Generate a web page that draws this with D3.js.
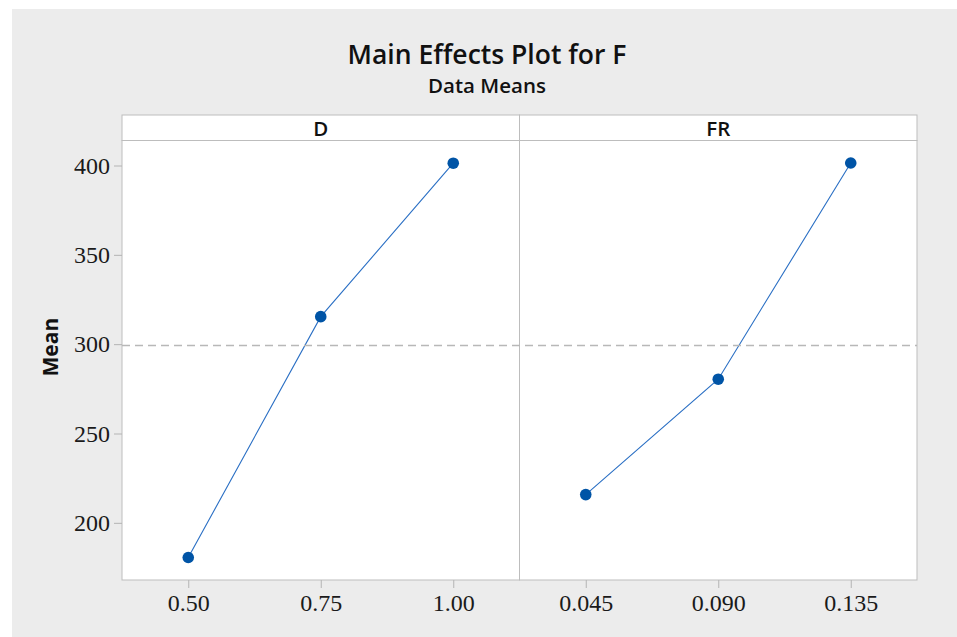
<!DOCTYPE html>
<html>
<head>
<meta charset="utf-8">
<script src="https://cdn.jsdelivr.net/npm/d3@7"></script>
<style>
  body { margin: 0; background: #fff; }
  .tick text { font-family: "Liberation Serif", serif; font-size: 24px; fill: #1a1a1a; }
  .tick line { stroke: #b4b4b4; }
  .domain { display: none; }
</style>
</head>
<body>
<svg id="chart" width="957" height="637"></svg>
<script>
// data
const factors = ["D", "FR"]
const dLevels = ["0.50", "0.75", "1.00"]
const dMeans = [180.6, 315.4, 401.3]
const frLevels = ["0.045", "0.090", "0.135"]
const frMeans = [215.8, 280.4, 401.4]
const yTicks = [200, 250, 300, 350, 400]
const grandMean = 299.2

const levels = [dLevels, frLevels]
const means = [dMeans, frMeans]

const svg = d3.select("#chart")
const border = "#bdbdbd"
const sans = "'Open Sans', 'Noto Sans', sans-serif"

// background
svg.append("rect")
  .attr("x", 12).attr("y", 9).attr("width", 945).attr("height", 628)
  .attr("fill", "#ececec")

// layout
const plotLeft = 122, plotRight = 917, stripTop = 115, plotTop = 140.5, plotBottom = 580
const panelW = (plotRight - plotLeft) / factors.length

const y = d3.scaleLinear().domain([168, 414]).range([plotBottom, plotTop])

// titles
svg.append("text")
  .attr("x", 487).attr("y", 64)
  .attr("text-anchor", "middle")
  .style("font-family", sans).style("font-weight", 600).style("font-size", "26.5px")
  .attr("fill", "#111")
  .text("Main Effects Plot for F")

svg.append("text")
  .attr("x", 487).attr("y", 93)
  .attr("text-anchor", "middle")
  .style("font-family", sans).style("font-weight", 600).style("font-size", "20.5px")
  .attr("fill", "#111")
  .text("Data Means")

svg.append("text")
  .attr("transform", `translate(58, ${y(300) + 3}) rotate(-90)`)
  .attr("text-anchor", "middle")
  .style("font-family", sans).style("font-weight", 700).style("font-size", "21px")
  .attr("fill", "#111")
  .text("Mean")

// panels
factors.forEach((f, i) => {
  const x0 = plotLeft + i * panelW
  const g = svg.append("g")

  g.append("rect")
    .attr("x", x0).attr("y", plotTop).attr("width", panelW).attr("height", plotBottom - plotTop)
    .attr("fill", "#fff").attr("stroke", border)

  g.append("rect")
    .attr("x", x0).attr("y", stripTop).attr("width", panelW).attr("height", plotTop - stripTop)
    .attr("fill", "#fff").attr("stroke", border)

  g.append("text")
    .attr("x", x0 + panelW / 2).attr("y", 135.5)
    .attr("text-anchor", "middle")
    .style("font-family", sans).style("font-weight", 600).style("font-size", "20.5px")
    .attr("fill", "#111")
    .text(f)

  const x = d3.scalePoint()
    .domain(levels[i])
    .range([x0, x0 + panelW])
    .padding(0.5)

  g.append("g")
    .attr("transform", `translate(0, ${plotBottom})`)
    .call(d3.axisBottom(x).tickSize(8).tickPadding(6))

  const pts = levels[i].map((l, k) => ({ level: l, mean: means[i][k] }))

  g.append("path")
    .datum(pts)
    .attr("fill", "none")
    .attr("stroke", "#2a6fc4")
    .attr("stroke-width", 1.1)
    .attr("d", d3.line().x(d => x(d.level)).y(d => y(d.mean)))

  g.selectAll("circle")
    .data(pts).enter()
    .append("circle")
    .attr("cx", d => x(d.level))
    .attr("cy", d => y(d.mean))
    .attr("r", 5.8)
    .attr("fill", "#0054a6")
})

// reference line at the overall mean
svg.append("line")
  .attr("x1", plotLeft).attr("x2", plotRight)
  .attr("y1", y(grandMean)).attr("y2", y(grandMean))
  .attr("stroke", "#b8b8b8").attr("stroke-width", 1.5)
  .attr("stroke-dasharray", "8,5")

// y axis
svg.append("g")
  .attr("transform", `translate(${plotLeft}, 0)`)
  .call(d3.axisLeft(y).tickValues(yTicks).tickSize(8).tickPadding(4))
</script>
</body>
</html>
